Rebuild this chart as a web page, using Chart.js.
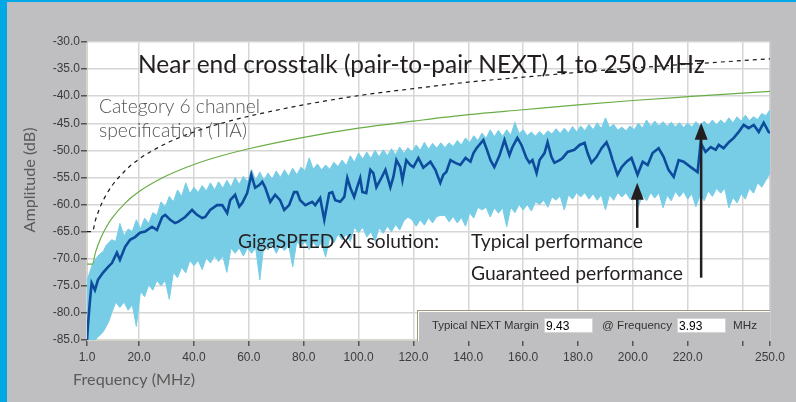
<!DOCTYPE html>
<html lang="en">
<head>
<meta charset="UTF-8">
<title>Near end crosstalk (pair-to-pair NEXT)</title>
<script src="https://cdn.jsdelivr.net/npm/chart.js"></script>
<style>
  html, body { margin: 0; padding: 0; }
  body { width: 796px; height: 402px; background: #00a9e6; overflow: hidden; position: relative; }
  .frame { position: absolute; left: 7px; top: 2px; right: 0; bottom: 0; background: #bfbfc1; }
  #chart { position: absolute; left: 0; top: 0; }
</style>
</head>
<body>
<div class="frame"></div>
<canvas id="chart" width="796" height="402"></canvas>
<script>
  // tick positions
  const xTicks = [1, 20, 40, 60, 80, 100, 120, 140, 160, 180, 200, 220, 240, 250];
  const yTicks = [-85, -80, -75, -70, -65, -60, -55, -50, -45, -40, -35, -30];

  // Category 6 channel spec (dashed) and GigaSPEED XL guaranteed (green)
  const specFreq = [1, 2, 3, 4, 5, 6, 8, 10, 15, 20, 30, 40, 50, 60, 80, 100, 120, 140, 160, 180, 200, 220, 250];
  const cat6Spec = [-65, -65, -65, -63, -61.5, -60.2, -58.2, -56.6, -53.7, -51.6, -48.7, -46.6, -45, -43.7, -41.6, -39.9, -38.6, -37.4, -36.5, -35.6, -34.8, -34.1, -33.1];
  const guaranteed = [-71, -71, -71, -69, -67.5, -66.2, -64.2, -62.6, -59.7, -57.6, -54.7, -52.6, -51, -49.7, -47.6, -45.9, -44.6, -43.4, -42.5, -41.6, -40.8, -40.1, -39.1];

  // typical performance (dark blue trace)
  const typFreq = [1, 1.4, 2.1, 2.7, 3.9, 5.0, 6.8, 8.7, 10.1, 11.9,
    13.0, 14.9, 16.7, 18.5, 20.3, 22.2, 24.7, 26.5, 28.4, 29.5,
    31.3, 33.1, 34.2, 36.8, 39.3, 41.1, 43.0, 44.1, 45.9, 48.4,
    50.3, 52.1, 53.2, 55.0, 56.5, 57.6, 59.4, 60.9, 62.3, 63.8,
    64.9, 66.0, 67.8, 69.6, 71.4, 72.9, 74.7, 76.5, 77.6, 78.7,
    80.6, 83.1, 84.2, 86.0, 87.5, 89.3, 90.4, 91.5, 93.3, 94.8,
    95.9, 97.0, 98.4, 99.5, 100.6, 101.4, 102.8, 104.3, 105.4, 106.5,
    108.3, 109.8, 111.6, 112.7, 113.8, 115.2, 116.0, 117.4, 118.9, 120.0,
    121.8, 123.6, 126.2, 128.0, 129.8, 130.9, 132.0, 133.5, 135.3, 137.1,
    139.0, 140.8, 141.9, 143.0, 145.5, 146.6, 148.1, 149.5, 151.4, 153.2,
    155.0, 156.1, 157.9, 159.4, 161.2, 162.3, 163.4, 164.9, 166.0, 167.8,
    168.9, 170.3, 171.4, 173.3, 174.4, 176.2, 178.7, 180.6, 182.4, 183.5,
    184.9, 186.8, 188.6, 190.4, 191.5, 192.6, 194.4, 195.9, 197.7, 199.5,
    201.7, 203.6, 205.4, 207.2, 209.4, 211.2, 213.0, 214.9, 216.7, 218.5,
    221.1, 223.6, 224.7, 226.5, 228.4, 230.2, 231.3, 233.1, 235.0, 236.8,
    238.6, 240.4, 242.2, 244.1, 245.9, 247.7, 249.5, 250];
  const typNext = [-85, -82, -77.6, -74.5, -75.8, -73.9, -72.6, -71.5, -70.8, -68.9,
    -70.2, -67.8, -66.5, -66.0, -65.2, -65.0, -64.1, -64.7, -62.3, -61.9,
    -62.8, -63.4, -63.2, -62.3, -61.0, -61.9, -62.5, -62.3, -61.0, -60.1,
    -60.1, -61.6, -59.2, -58.2, -60.4, -59.7, -57.9, -54.5, -56.9, -56.4,
    -55.8, -56.9, -59.5, -58.2, -59.2, -61.0, -60.1, -57.7, -57.7, -59.2,
    -60.1, -59.5, -60.1, -58.8, -62.8, -57.9, -57.7, -59.2, -59.5, -58.6,
    -55.1, -56.9, -58.6, -56.8, -55.1, -57.7, -57.9, -53.6, -54.2, -56.8,
    -55.1, -53.6, -56.8, -54.9, -51.8, -53.1, -55.5, -51.8, -52.7, -53.1,
    -51.4, -53.2, -52.1, -53.6, -56.0, -54.5, -54.0, -51.8, -52.3, -52.7,
    -51.4, -52.1, -50.5, -49.6, -48.1, -49.6, -51.8, -53.1, -50.9, -48.1,
    -50.9, -49.4, -47.7, -49.0, -51.4, -52.3, -51.8, -54.2, -51.8, -50.5,
    -48.5, -51.2, -52.3, -51.8, -51.4, -50.3, -49.9, -49.0, -48.6, -50.5,
    -52.3, -51.2, -49.6, -48.5, -49.9, -51.8, -54.5, -53.1, -52.1, -51.4,
    -54.5, -52.1, -52.7, -50.5, -49.6, -51.2, -53.6, -54.9, -51.8, -52.1,
    -53.1, -54.0, -48.6, -50.3, -49.4, -49.9, -49.0, -49.6, -48.5, -47.7,
    -46.6, -45.3, -45.9, -45.3, -46.6, -44.9, -46.6, -46.8];

  // light blue spread of measured links (upper and lower envelope)
  const bandFreq = [1, 2, 3, 4, 5, 6, 7, 8, 9,
    10, 11.5, 13, 14.5, 16, 17.5, 19, 20.5, 22, 23.5,
    25, 26.5, 28, 29.5, 31, 32.5, 34, 35.5, 37, 38.5,
    40, 41.5, 43, 44.5, 46, 47.5, 49, 50.5, 52, 53.5,
    55, 56.5, 58, 59.5, 61, 62.5, 64, 65.5, 67, 68.5,
    70, 71.5, 73, 74.5, 76, 77.5, 79, 80.5, 82, 83.5,
    85, 86.5, 88, 89.5, 91, 92.5, 94, 95.5, 97, 98.5,
    100, 101.5, 103, 104.5, 106, 107.5, 109, 110.5, 112, 113.5,
    115, 116.5, 118, 119.5, 121, 122.5, 124, 125.5, 127, 128.5,
    130, 131.5, 133, 134.5, 136, 137.5, 139, 140.5, 142, 143.5,
    145, 146.5, 148, 149.5, 151, 152.5, 154, 155.5, 157, 158.5,
    160, 161.5, 163, 164.5, 166, 167.5, 169, 170.5, 172, 173.5,
    175, 176.5, 178, 179.5, 181, 182.5, 184, 185.5, 187, 188.5,
    190, 191.5, 193, 194.5, 196, 197.5, 199, 200.5, 202, 203.5,
    205, 206.5, 208, 209.5, 211, 212.5, 214, 215.5, 217, 218.5,
    220, 221.5, 223, 224.5, 226, 227.5, 229, 230.5, 232, 233.5,
    235, 236.5, 238, 239.5, 241, 242.5, 244, 245.5, 247, 248.5,
    250];
  const bandHi = [-74, -72.5, -71, -70.2, -69.5, -69, -68.6, -67.5, -67,
    -66.5, -66.8, -63.5, -65.8, -64.5, -65, -62.8, -64.5, -62.5, -63.5,
    -61.5, -62, -59.5, -60.5, -58.5, -59.5, -57.3, -58.5, -56, -58,
    -56.8, -57.8, -56.5, -57.5, -56, -57.3, -55.8, -57, -55.5, -56.8,
    -55, -56.3, -54.8, -55.8, -53.6, -55.5, -54, -55.5, -54.2, -55.3,
    -53.8, -55, -53.6, -54.8, -53.3, -54.5, -53.1, -53.8, -51.4, -53.5,
    -52.5, -53.6, -52.7, -53.5, -52.2, -53, -51.8, -52.8, -51, -52.2,
    -50.5, -51.6, -50.3, -51.5, -50, -51.2, -49.9, -51, -49.7, -50.8,
    -49.4, -50.6, -49.5, -50.3, -49, -50, -48.5, -49.8, -48.7, -49.6,
    -48.6, -49.5, -48.6, -49.3, -48.2, -49, -47.7, -48.6, -47.3, -48.2,
    -46.8, -47.8, -46.2, -47.5, -46.3, -47.4, -46.2, -47.2, -44.8, -46.9,
    -46.2, -47.3, -46.6, -47.4, -46.5, -47.3, -46.4, -47, -46, -46.9,
    -45.9, -46.8, -45.6, -46.6, -45.5, -46.4, -45.2, -46.2, -44.9, -46,
    -44, -45.8, -45.2, -46.3, -45.7, -46.4, -45.5, -46.2, -45, -45.9,
    -44.4, -45.6, -44.6, -45.5, -44.7, -45.6, -44.8, -45.7, -44.9, -45.8,
    -45, -45.7, -44.7, -45.5, -44.6, -45.4, -44.4, -45.3, -44.4, -45.1,
    -44, -44.9, -43.8, -44.6, -43.5, -44.5, -43.8, -44.3, -43.2, -43.6,
    -42.5];
  const bandLo = [-85, -85, -85, -85, -84.4, -84, -83.4, -82.5, -81.5,
    -80, -78, -79, -78, -79.5, -78.5, -82.5, -76, -77, -74.8,
    -75.8, -74, -75, -74, -77.5, -72.5, -73.5, -71.6, -72.6, -70.3,
    -71.3, -70.3, -72, -69.8, -70.8, -69.5, -70.5, -69.5, -72.5, -68,
    -69, -68, -69.5, -68, -69, -68, -73.9, -67.4, -68.4, -67.4,
    -69, -67.5, -68.5, -67.5, -71.5, -66.8, -67.8, -66.8, -68.3, -67,
    -68, -67, -69.7, -66.1, -67.1, -65.5, -66.5, -65.5, -66.8, -64.2,
    -65.2, -64.2, -66, -65, -66.8, -64.3, -65.3, -64, -65, -63.7,
    -64.7, -63, -62.3, -62.8, -64, -62.8, -63.8, -62.4, -63.4, -62.2,
    -62, -62, -63.2, -62.2, -63.4, -62.4, -64, -61.5, -62.5, -60.5,
    -61, -60.5, -62.3, -60.6, -61.6, -60.6, -64.1, -60.5, -61.5, -60,
    -61, -60, -61.2, -59.5, -60, -59.2, -60.5, -58.6, -59.2, -58.4,
    -61, -58.2, -59, -57.8, -58.6, -57.8, -59, -58, -59.2, -58.2,
    -61, -58.2, -59.2, -57.8, -58.6, -57.8, -59, -58, -60.4, -58.3,
    -59.3, -57.8, -58.8, -57.8, -60.6, -58.3, -59.3, -57.6, -58.6, -57.6,
    -59, -58, -60.4, -58.3, -59.3, -57.5, -58.5, -57, -57.9, -57,
    -60.6, -58.7, -59.7, -58, -59, -57, -57.9, -56, -56.8, -55.5,
    -54.2];

  // arrows: frequency, tail dB, tip dB
  const arrows = [
    { f: 201.6, from: -64.3, to: -56.0 },
    { f: 224.9, from: -73.5, to: -44.9 }
  ];

  const pts = (xs, ys) => xs.map((x, i) => ({ x: x, y: ys[i] }));

  function fitText(ctx, str, x, y, width, weight, family, color) {
    ctx.font = weight + ' 20px ' + family;
    const size = 20 * width / ctx.measureText(str).width;
    ctx.font = weight + ' ' + size.toFixed(2) + 'px ' + family;
    ctx.fillStyle = color;
    ctx.fillText(str, x, y);
  }

  const overlay = {
    id: 'overlay',
    beforeDraw(chart) {
      const { ctx, chartArea: a } = chart;
      ctx.save();
      ctx.fillStyle = '#ffffff';
      ctx.fillRect(a.left, a.top, a.right - a.left, a.bottom - a.top);
      ctx.restore();
    },
    afterDraw(chart) {
      const ctx = chart.ctx;
      const xs = chart.scales.x, ys = chart.scales.y;
      ctx.save();
      ctx.textBaseline = 'alphabetic';
      ctx.textAlign = 'left';

      fitText(ctx, 'Near end crosstalk (pair-to-pair NEXT) 1 to 250 MHz', 138, 73, 567, '400', 'Lato', '#231f20');
      fitText(ctx, 'Category 6 channel', 99, 113, 161, '300', 'Lato', '#555555');
      fitText(ctx, 'specification (TIA)', 99, 137, 148, '300', 'Lato', '#555555');
      fitText(ctx, 'GigaSPEED XL solution:', 238, 248, 201, '400', 'Lato', '#231f20');
      fitText(ctx, 'Typical performance', 471, 248, 172, '400', 'Lato', '#231f20');
      fitText(ctx, 'Guaranteed performance', 471, 280, 212, '400', 'Lato', '#231f20');

      // arrows
      ctx.strokeStyle = '#231f20';
      ctx.fillStyle = '#231f20';
      ctx.lineWidth = 2.5;
      arrows.forEach(function (ar) {
        const px = xs.getPixelForValue(ar.f);
        const y0 = ys.getPixelForValue(ar.from);
        const y1 = ys.getPixelForValue(ar.to);
        ctx.beginPath();
        ctx.moveTo(px, y0);
        ctx.lineTo(px, y1 + 12);
        ctx.stroke();
        ctx.beginPath();
        ctx.moveTo(px, y1);
        ctx.lineTo(px - 6.5, y1 + 17);
        ctx.lineTo(px + 6.5, y1 + 17);
        ctx.closePath();
        ctx.fill();
      });

      // axis titles
      fitText(ctx, 'Frequency (MHz)', 73, 385, 122, '400', 'Lato', '#5a5a5a');
      ctx.save();
      ctx.translate(35, 180);
      ctx.rotate(-Math.PI / 2);
      fitText(ctx, 'Amplitude (dB)', -52.5, 0, 105, '400', 'Lato', '#5a5a5a');
      ctx.restore();

      // margin panel
      ctx.fillStyle = '#bfbfc1';
      ctx.fillRect(417, 310, 353, 31);
      ctx.strokeStyle = '#9d9878';
      ctx.lineWidth = 1;
      ctx.beginPath();
      ctx.moveTo(417.5, 341);
      ctx.lineTo(417.5, 310.5);
      ctx.lineTo(770, 310.5);
      ctx.stroke();
      ctx.strokeStyle = '#ffffff';
      ctx.beginPath();
      ctx.moveTo(418.5, 341);
      ctx.lineTo(418.5, 311.5);
      ctx.lineTo(770, 311.5);
      ctx.stroke();

      ctx.fillStyle = '#ffffff';
      ctx.fillRect(544, 318, 49, 15);
      ctx.fillRect(677, 318, 49, 15);
      ctx.strokeStyle = '#d4d4d4';
      ctx.strokeRect(544.5, 318.5, 48, 14);
      ctx.strokeRect(677.5, 318.5, 48, 14);

      fitText(ctx, 'Typical NEXT Margin', 432, 329, 107, '400', 'Liberation Sans', '#333333');
      fitText(ctx, '@ Frequency', 602, 329, 70, '400', 'Liberation Sans', '#333333');
      fitText(ctx, 'MHz', 733, 329, 24, '400', 'Liberation Sans', '#333333');
      ctx.font = '12px Liberation Sans';
      ctx.fillStyle = '#000000';
      ctx.fillText('9.43', 546, 330);
      ctx.fillText('3.93', 679, 330);
      ctx.restore();
    }
  };

  Chart.defaults.font.family = 'Liberation Sans';
  Chart.defaults.font.size = 12;

  const gridStyle = { color: '#d6d6d6', lineWidth: 1.5, tickColor: '#555555', tickLength: 6 };

  new Chart(document.getElementById('chart'), {
    type: 'line',
    data: {
      datasets: [
        {
          label: 'Category 6 channel specification (TIA)',
          data: pts(specFreq, cat6Spec),
          borderColor: '#1a1a1a', borderWidth: 1.2, borderDash: [4, 4],
          cubicInterpolationMode: 'monotone', fill: false, order: 0
        },
        {
          label: 'Guaranteed performance',
          data: pts(specFreq, guaranteed),
          borderColor: '#69ad45', borderWidth: 1.2,
          cubicInterpolationMode: 'monotone', fill: false, order: 1
        },
        {
          label: 'Typical performance',
          data: pts(typFreq, typNext),
          borderColor: '#0d4c9c', borderWidth: 2.6, fill: false, order: 2
        },
        {
          label: 'Spread upper',
          data: pts(bandFreq, bandHi),
          borderColor: '#77cde6', borderWidth: 1, backgroundColor: '#77cde6',
          fill: '+1', order: 3
        },
        {
          label: 'Spread lower',
          data: pts(bandFreq, bandLo),
          borderColor: '#77cde6', borderWidth: 1, fill: false, order: 4
        }
      ]
    },
    options: {
      responsive: false,
      animation: false,
      layout: { padding: { left: 0, top: 42, right: 26, bottom: 0 } },
      elements: { point: { radius: 0 }, line: { tension: 0 } },
      plugins: { legend: { display: false }, tooltip: { enabled: false } },
      scales: {
        x: {
          type: 'linear', min: 1, max: 250,
          afterBuildTicks: function (s) { s.ticks = xTicks.map(v => ({ value: v })); },
          afterFit: function (s) { s.height = 62; },
          ticks: {
            callback: v => v === 240 ? '' : v.toFixed(1),
            color: '#3c3c3c', padding: 4, maxRotation: 0, autoSkip: false
          },
          grid: gridStyle,
          border: { color: '#d8d4c4' }
        },
        y: {
          type: 'linear', min: -85, max: -30,
          afterBuildTicks: function (s) { s.ticks = yTicks.map(v => ({ value: v })); },
          afterFit: function (s) { s.width = 87; },
          ticks: { callback: v => v.toFixed(1), color: '#3c3c3c', padding: 1 },
          grid: gridStyle,
          border: { color: '#d8d4c4' }
        }
      }
    },
    plugins: [overlay]
  });
</script>
</body>
</html>
